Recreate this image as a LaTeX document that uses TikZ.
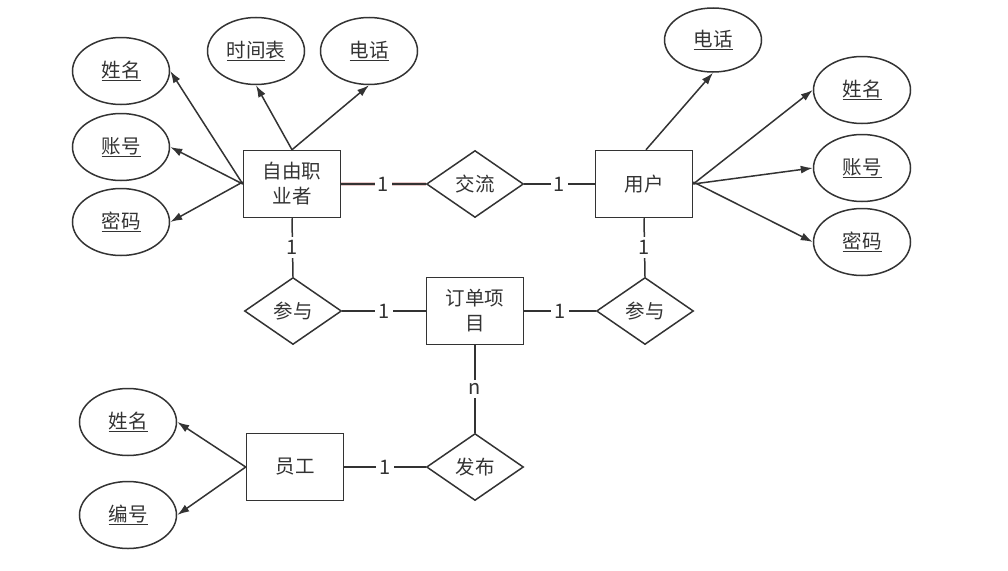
\documentclass[tikz,border=0pt]{standalone}
\usepackage{fontspec}
\setmainfont{Noto Sans CJK SC}
\usetikzlibrary{shapes.geometric,arrows.meta}
\definecolor{ink}{HTML}{333333}
\definecolor{halo}{HTML}{E8C8C8}
\begin{document}
\begin{tikzpicture}[x=1pt,y=-1pt,
  every node/.style={font=\fontsize{19.5}{25}\selectfont,text=ink},
  attr/.style={ellipse,draw=ink,line width=1.5pt,minimum width=97pt,minimum height=67pt,inner sep=0pt},
  ent/.style={rectangle,draw=ink,line width=1.5pt,minimum width=97pt,minimum height=67pt,inner sep=0pt,align=center},
  rel/.style={diamond,draw=ink,line width=1.5pt,minimum width=97pt,minimum height=67pt,inner sep=0pt},
  arr/.style={draw=ink,line width=1.5pt,-{Latex[length=12pt,width=8pt]}},
  lnk/.style={draw=ink,line width=1.5pt},
  card/.style={fill=white,inner sep=3pt,font=\fontsize{20}{24}\selectfont}]
\useasboundingbox (0,0) rectangle (1008,570);
% attributes
\node[attr] (e1) at (121,71) {\underline{姓名}};
\node[attr] (e2) at (121,147) {\underline{账号}};
\node[attr] (e3) at (121,222) {\underline{密码}};
\node[attr] (e4) at (256,51) {\underline{时间表}};
\node[attr] (e5) at (369,51) {\underline{电话}};
\node[attr,minimum height=64pt] (e6) at (713,40) {\underline{电话}};
\node[attr] (e7) at (862,90) {\underline{姓名}};
\node[attr] (e8) at (862,168) {\underline{账号}};
\node[attr] (e9) at (862,242) {\underline{密码}};
\node[attr] (e10) at (128,422) {\underline{姓名}};
\node[attr] (e11) at (128,515) {\underline{编号}};
% entities
\node[ent] (free) at (292,184) {自由职\\业者};
\node[ent] (user) at (644,184) {用户};
\node[ent] (order) at (475,311) {订单项\\目};
\node[ent] (emp) at (295,467) {员工};
% relations
\node[rel] (jl) at (475,184) {交流};
\node[rel] (cy1) at (293,311) {参与};
\node[rel] (cy2) at (645,311) {参与};
\node[rel] (fb) at (475,467) {发布};
% attribute arrows
\draw[arr] (free.west) -- (e1.east);
\draw[arr] (free.west) -- (e2.east);
\draw[arr] ([yshift=2pt]free.west) -- (e3.east);
\draw[arr] (free.north) -- (e4.south);
\draw[arr] (free.north) -- (e5.south);
\draw[arr] ([xshift=2pt]user.north) -- (e6.south);
\draw[arr] (user.east) -- (e7.west);
\draw[arr] (user.east) -- (e8.west);
\draw[arr] ([yshift=2pt]user.east) -- (e9.west);
\draw[arr] (emp.west) -- (e10.east);
\draw[arr] (emp.west) -- (e11.east);
% relationship links
\draw[halo,line width=4.5pt] (free.east) -- (jl.west);
\draw[lnk] (free.east) -- node[card] {1} (jl.west);
\draw[lnk] (jl.east) -- node[card] {1} (user.west);
\draw[lnk] (free.south) -- node[card] {1} (cy1.north);
\draw[lnk] (user.south) -- node[card] {1} (cy2.north);
\draw[lnk] (cy1.east) -- node[card] {1} (order.west);
\draw[lnk] (order.east) -- node[card] {1} (cy2.west);
\draw[lnk] (order.south) -- node[card] {n} (fb.north);
\draw[lnk] (emp.east) -- node[card] {1} (fb.west);
\end{tikzpicture}
\end{document}
